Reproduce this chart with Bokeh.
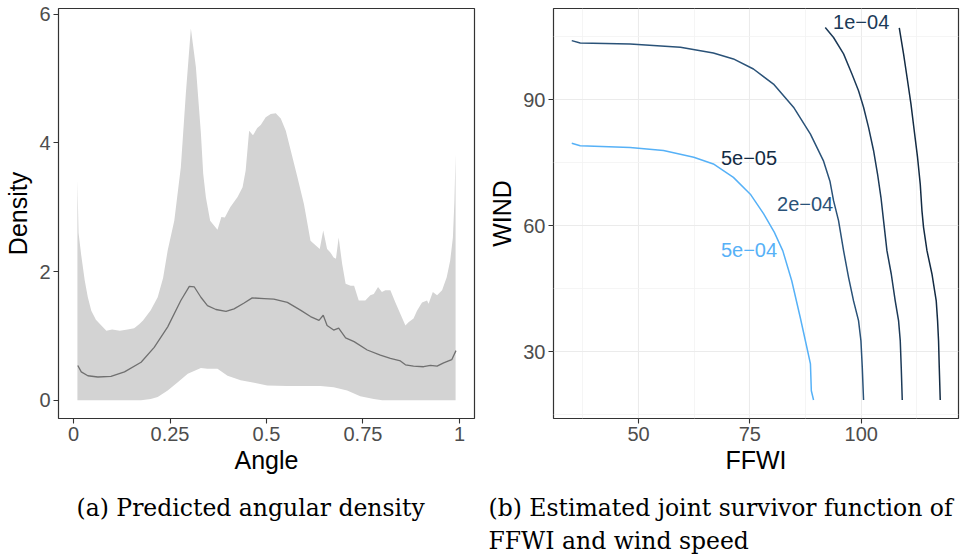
from bokeh.plotting import figure
from bokeh.layouts import column, row
from bokeh.models import FixedTicker, ColumnDataSource
from bokeh.core.properties import value
from bokeh.embed import file_html
from bokeh.resources import INLINE

# ---------------- Panel (a): predicted angular density ----------------
angle_upper = [0.010, 0.013, 0.020, 0.029, 0.037, 0.046, 0.058, 0.072, 0.085, 0.100, 0.120, 0.140,
               0.157, 0.170, 0.180, 0.200, 0.218, 0.232, 0.244, 0.261, 0.278, 0.291, 0.304, 0.317,
               0.330, 0.336, 0.343, 0.354, 0.373, 0.383, 0.392, 0.406, 0.425, 0.438, 0.446, 0.455,
               0.465, 0.476, 0.485, 0.498, 0.511, 0.524, 0.537, 0.550, 0.563, 0.580, 0.597, 0.614,
               0.627, 0.638, 0.647, 0.657, 0.665, 0.674, 0.680, 0.687, 0.696, 0.705, 0.718, 0.727,
               0.739, 0.756, 0.769, 0.778, 0.789, 0.799, 0.808, 0.821, 0.834, 0.847, 0.860, 0.868,
               0.881, 0.890, 0.903, 0.916, 0.920, 0.931, 0.942, 0.955, 0.967, 0.976, 0.983, 0.987,
               0.990]
density_upper = [3.42, 2.60, 2.25, 1.86, 1.60, 1.39, 1.25, 1.16, 1.08, 1.10, 1.08, 1.10,
                 1.12, 1.18, 1.24, 1.40, 1.60, 1.90, 2.33, 2.79, 3.62, 4.77, 5.78, 5.18,
                 4.15, 3.52, 3.15, 2.79, 2.65, 2.85, 2.84, 3.00, 3.16, 3.31, 3.57, 4.19,
                 4.12, 4.23, 4.28, 4.40, 4.45, 4.46, 4.38, 4.19, 3.88, 3.47, 3.05, 2.48,
                 2.41, 2.35, 2.64, 2.35, 2.30, 2.22, 2.20, 2.53, 2.12, 1.81, 1.78, 1.78,
                 1.55, 1.55, 1.63, 1.65, 1.76, 1.68, 1.71, 1.71, 1.52, 1.34, 1.16, 1.21,
                 1.27, 1.39, 1.52, 1.55, 1.50, 1.68, 1.63, 1.71, 1.91, 2.17, 2.53, 3.10,
                 3.83]

angle_lower = [0.010, 0.175, 0.200, 0.218, 0.244, 0.270, 0.296, 0.330, 0.347, 0.373, 0.399,
               0.433, 0.468, 0.502, 0.554, 0.640, 0.674, 0.709, 0.743, 0.778, 0.800, 0.990]
density_lower = [0.00, 0.00, 0.02, 0.05, 0.15, 0.28, 0.41, 0.50, 0.49, 0.49, 0.38,
                 0.31, 0.27, 0.23, 0.22, 0.22, 0.20, 0.15, 0.06, 0.02, 0.00, 0.00]

angle_median = [0.011, 0.020, 0.037, 0.063, 0.097, 0.132, 0.175, 0.209, 0.244, 0.278, 0.300,
                0.313, 0.330, 0.347, 0.369, 0.395, 0.416, 0.442, 0.463, 0.494, 0.519, 0.554,
                0.588, 0.614, 0.636, 0.647, 0.657, 0.674, 0.687, 0.705, 0.727, 0.761, 0.795,
                0.821, 0.847, 0.860, 0.881, 0.907, 0.925, 0.942, 0.959, 0.980, 0.991]
density_median = [0.54, 0.44, 0.38, 0.36, 0.37, 0.44, 0.59, 0.82, 1.14, 1.55, 1.77,
                  1.76, 1.60, 1.47, 1.41, 1.38, 1.42, 1.51, 1.59, 1.58, 1.57, 1.52,
                  1.40, 1.30, 1.24, 1.32, 1.16, 1.09, 1.12, 0.97, 0.91, 0.78, 0.70,
                  0.65, 0.61, 0.55, 0.53, 0.52, 0.54, 0.53, 0.58, 0.63, 0.77]

angle_ticks = [0, 0.25, 0.5, 0.75, 1]
angle_tick_labels = ["0", "0.25", "0.5", "0.75", "1"]
density_ticks = [0, 2, 4, 6]

# ---------------- Panel (b): joint survivor contours ----------------
levels = ["5e\u221205", "1e\u221204", "2e\u221204", "5e\u221204"]
level_colors = ["#132B43", "#1C3A58", "#2A5278", "#56B1F7"]

ffwi_5e05 = [108.55, 109.51, 110.41, 111.17, 111.91, 112.65, 113.26, 113.64, 114.0, 114.77,
             115.89, 116.85, 117.15, 117.37, 117.53, 117.75]
wind_5e05 = [107.07, 100.9, 94.5, 89.0, 82.6, 76.3, 69.9, 63.6, 59.6, 54.05,
             48.5, 42.1, 37.4, 32.6, 26.3, 18.5]

ffwi_1e04 = [91.93, 93.79, 96.04, 97.92, 99.40, 100.53, 101.65, 102.77, 103.67, 104.44,
             105.02, 105.78, 106.75, 107.64, 108.39, 108.77, 108.99, 109.22]
wind_1e04 = [107.2, 104.8, 100.9, 96.1, 92.1, 88.2, 83.4, 77.9, 72.3, 66.7,
             61.2, 54.05, 48.5, 42.1, 37.4, 32.6, 26.3, 18.5]

ffwi_2e04 = [35.0, 36.9, 48.1, 59.4, 66.8, 71.3, 75.8, 80.3, 84.8, 88.6, 91.5, 93.0, 93.79,
             94.91, 96.04, 97.16, 98.28, 99.40, 99.94, 100.24, 100.53]
wind_2e04 = [104.05, 103.5, 103.26, 102.5, 101.1, 99.7, 97.3, 93.7, 88.2, 81.8, 75.5, 70.5, 65.95,
             61.2, 54.05, 47.7, 42.1, 37.4, 32.6, 26.3, 18.5]

ffwi_5e04 = [35.0, 36.9, 48.1, 55.6, 62.4, 66.8, 71.3, 75.1, 78.1, 80.5, 82.4, 84.4, 86.3,
             87.8, 88.6, 88.8, 89.3]
wind_5e04 = [79.6, 79.05, 78.6, 77.9, 76.3, 74.7, 71.5, 67.5, 62.8, 58.4, 54.0, 46.9, 38.2,
             31.0, 27.1, 20.7, 18.5]

label_text = ["1e\u221204", "5e\u221205", "2e\u221204", "5e\u221204"]
label_ffwi = [100.0, 74.8, 87.4, 74.8]
label_wind = [108.6, 76.1, 65.2, 54.3]
label_colors = ["#1C3A58", "#132B43", "#2A5278", "#56B1F7"]

ffwi_ticks = [50, 75, 100]
ffwi_minor = [37.5, 62.5, 87.5, 112.5]
wind_ticks = [30, 60, 90]
wind_minor = [15, 45, 75, 105]

captions = ["(a) Predicted angular density",
            "(b) Estimated joint survivor function of",
            "FFWI and wind speed"]

SANS = "Liberation Sans"
TICK_COLOR = "#4D4D4D"
FRAME = "#333333"


def style(p):
    p.background_fill_color = "white"
    p.border_fill_color = "white"
    p.outline_line_color = FRAME
    p.outline_line_width = 1.2
    for ax in (p.xaxis, p.yaxis):
        ax.axis_line_color = None
        ax.major_tick_line_color = FRAME
        ax.major_tick_line_width = 1.1
        ax.major_tick_out = 5
        ax.major_tick_in = 0
        ax.minor_tick_line_color = None
        ax.major_label_text_font = SANS
        ax.major_label_text_font_size = "20px"
        ax.major_label_text_color = TICK_COLOR
        ax.axis_label_text_font = SANS
        ax.axis_label_text_font_size = "25px"
        ax.axis_label_text_font_style = "normal"
        ax.axis_label_text_color = "black"
    p.xaxis.major_label_standoff = 3
    p.yaxis.major_label_standoff = 3
    p.xaxis.axis_label_standoff = 2
    p.yaxis.axis_label_standoff = 4


# ----- figure (a)
p1 = figure(width=479, height=478, x_range=(-0.039, 1.039), y_range=(-0.285, 6.09),
            output_backend="svg", toolbar_location=None,
            min_border_left=58, min_border_right=5, min_border_top=8, min_border_bottom=60)
style(p1)
p1.xgrid.visible = False
p1.ygrid.visible = False
p1.xaxis.ticker = FixedTicker(ticks=angle_ticks)
p1.xaxis.major_label_overrides = {t: l for t, l in zip(angle_ticks, angle_tick_labels)}
p1.yaxis.ticker = FixedTicker(ticks=density_ticks)
p1.xaxis.axis_label = "Angle"
p1.yaxis.axis_label = "Density"

band_x = angle_upper + angle_lower[::-1]
band_y = density_upper + density_lower[::-1]
p1.patch(band_x, band_y, fill_color="#D3D3D3", line_color=None)
p1.line(angle_median, density_median, line_color="#707070", line_width=1.3)

# ----- figure (b)
p2 = figure(width=500, height=478, x_range=(30.9, 121.85), y_range=(14.1, 111.7),
            output_backend="svg", toolbar_location=None,
            min_border_left=74, min_border_right=21, min_border_top=8, min_border_bottom=60)
style(p2)
p2.xaxis.ticker = FixedTicker(ticks=ffwi_ticks, minor_ticks=ffwi_minor)
p2.yaxis.ticker = FixedTicker(ticks=wind_ticks, minor_ticks=wind_minor)
for g in (p2.xgrid, p2.ygrid):
    g.grid_line_color = "#EBEBEB"
    g.grid_line_width = 1.1
    g.minor_grid_line_color = "#F2F2F2"
    g.minor_grid_line_width = 0.8
p2.xaxis.axis_label = "FFWI"
p2.yaxis.axis_label = "WIND"

curves = [(ffwi_5e05, wind_5e05), (ffwi_1e04, wind_1e04), (ffwi_2e04, wind_2e04), (ffwi_5e04, wind_5e04)]
for (xs, ys), col in zip(curves, level_colors):
    p2.line(xs, ys, line_color=col, line_width=1.5, line_join="round")

lab_src = ColumnDataSource(dict(x=label_ffwi, y=label_wind, t=label_text, c=label_colors))
p2.text(x="x", y="y", text="t", text_color="c", source=lab_src,
        text_font=value(SANS), text_font_size="20px",
        text_align="center", text_baseline="middle")

# ----- caption strip
p3 = figure(width=979, height=81, x_range=(0, 979), y_range=(81, 0),
            output_backend="svg", toolbar_location=None,
            min_border=0, outline_line_color=None)
p3.axis.visible = False
p3.grid.visible = False
p3.background_fill_color = "white"
p3.border_fill_color = "white"
cap_x = [76, 488, 488]
cap_y = [29, 29, 62]
cap_src = ColumnDataSource(dict(x=cap_x, y=cap_y, t=captions))
p3.text(x="x", y="y", text="t", source=cap_src,
        text_font=value("DejaVu Serif"), text_font_size="23.5px",
        text_color="black", text_align="left", text_baseline="middle")

layout = column(row(p1, p2), p3)

with open("out.html", "w") as f:
    f.write(file_html(layout, INLINE))
